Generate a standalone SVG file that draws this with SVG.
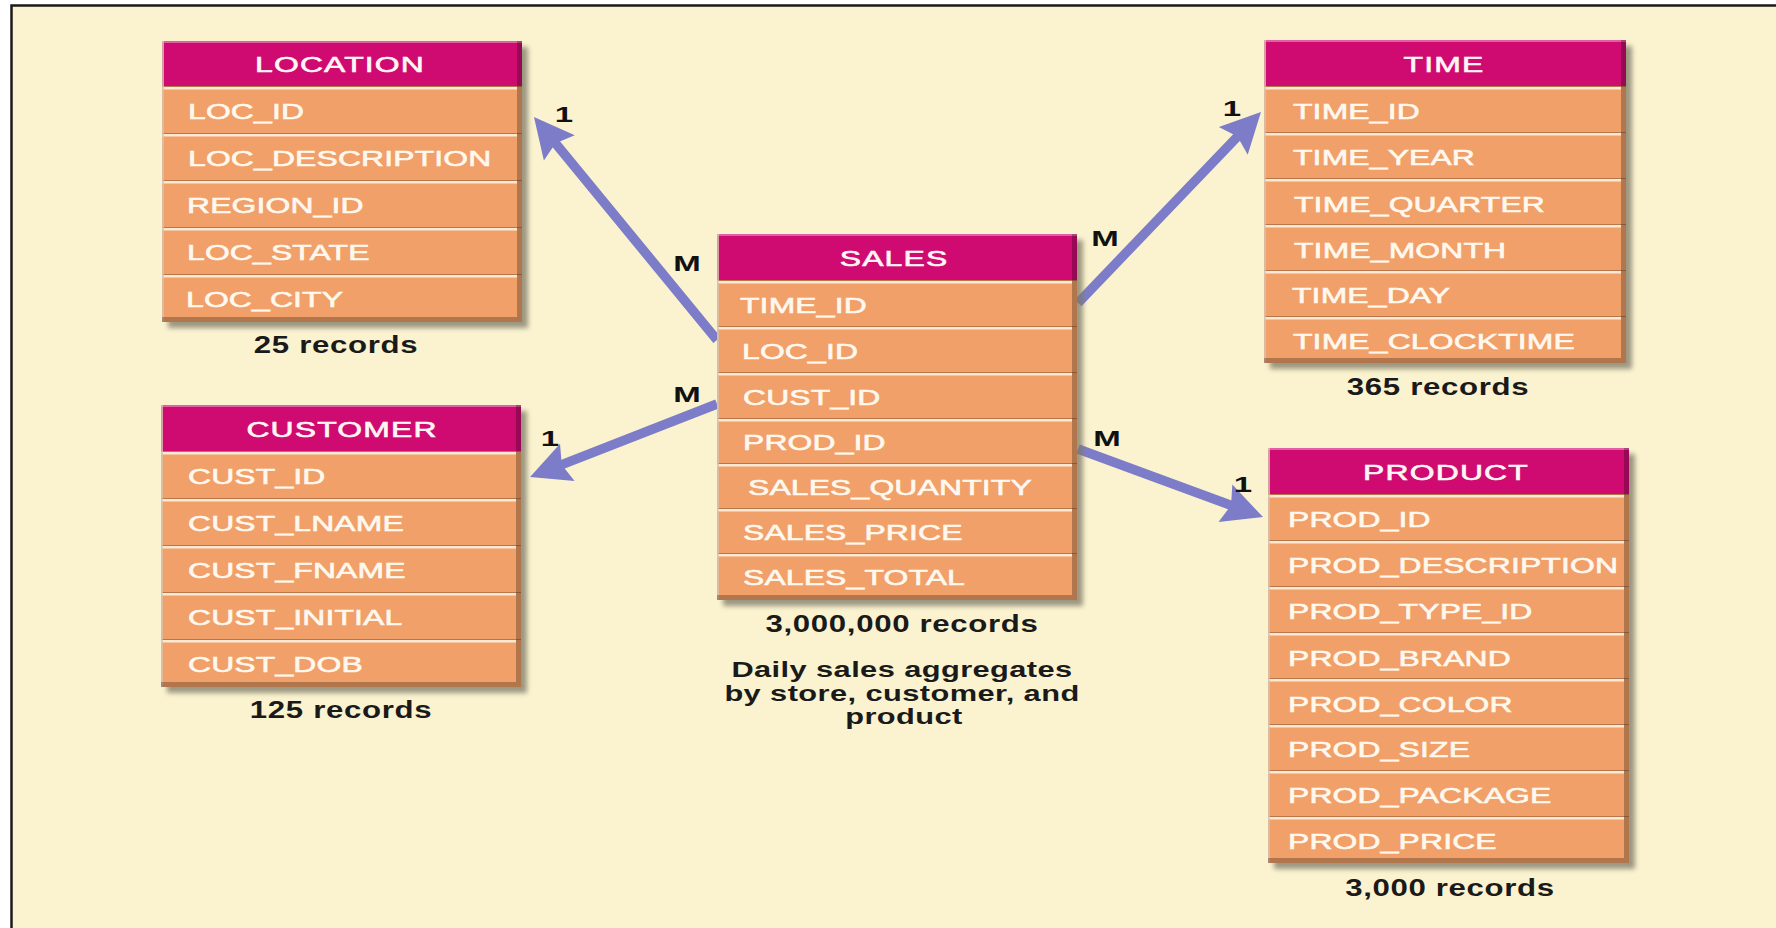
<svg xmlns="http://www.w3.org/2000/svg" width="1776" height="928" viewBox="0 0 1776 928">
  <defs>
    <filter id="soft" x="-10%" y="-10%" width="120%" height="120%">
      <feGaussianBlur stdDeviation="2.5"/>
    </filter>
    <marker id="head" markerUnits="userSpaceOnUse" orient="auto" refX="0" refY="0" markerWidth="90" markerHeight="90" overflow="visible">
      <path d="M30,0 L-10,-20 L-4,0 L-10,20 Z" fill="#7C7CC8"/>
    </marker>
    <style>
      .bg { fill: #FBF3D0; }
      .frame { fill: none; stroke: #1A1A1A; stroke-width: 2.5; }
      .shadow { fill: #7D7867; opacity: 0.75; filter: url(#soft); }
      .body { fill: #F0A068; }
      .head { fill: #CF0B72; }
      .sepd { fill: none; stroke: #B8764D; stroke-width: 1; }
      .sepl { fill: none; stroke: #FCE9D4; stroke-width: 2.5; }
      .bevr { fill: #000; opacity: 0.26; }
      .bevl { fill: #D8C2AE; opacity: 0.8; }
      .bevt { fill: #FFFFFF; opacity: 0.35; }
      .title { font-family: "Liberation Sans", Arial, sans-serif; font-size: 22px; fill: #FFF6F4; stroke: #FFF6F4; stroke-width: 0.6px; text-anchor: middle; letter-spacing: 0.8px; }
      .field { font-family: "Liberation Sans", Arial, sans-serif; font-size: 22px; fill: #FFF8EE; stroke: #FFF8EE; stroke-width: 0.6px; letter-spacing: 0.1px; }
      .count { font-family: "Liberation Sans", Arial, sans-serif; font-size: 24px; font-weight: bold; fill: #1A1A1A; text-anchor: middle; letter-spacing: 0.5px; }
      .note { font-family: "Liberation Sans", Arial, sans-serif; font-size: 22px; font-weight: bold; fill: #1A1A1A; text-anchor: middle; letter-spacing: 0.3px; }
      .card { font-family: "Liberation Sans", Arial, sans-serif; font-size: 22px; font-weight: bold; fill: #111; text-anchor: middle; }
      .link { fill: none; stroke: #7C7CC8; stroke-width: 9.5; marker-end: url(#head); }
    </style>
  </defs>

  <!-- page -->
  <rect x="0" y="0" width="1776" height="928" fill="#FFFFFF"/>
  <rect class="bg" x="12" y="6" width="1764" height="922"/>
  <path class="frame" d="M11.5,928 V5.5 H1776"/>

  <!-- relationship lines (fact table to dimensions) -->
  <g id="connectors">
    <path class="link" d="M717,340 L553,140.2"/>
    <path class="link" d="M1078,303 L1240.2,133.7"/>
    <path class="link" d="M717,404 L558,466.1"/>
    <path class="link" d="M1078,449 L1234.8,506.7"/>
    <text class="card" transform="translate(564 122) scale(1.5 1)">1</text>
    <text class="card" transform="translate(687 271) scale(1.5 1)">M</text>
    <text class="card" transform="translate(1232 116) scale(1.5 1)">1</text>
    <text class="card" transform="translate(1105 246) scale(1.5 1)">M</text>
    <text class="card" transform="translate(550 446) scale(1.5 1)">1</text>
    <text class="card" transform="translate(687 402) scale(1.5 1)">M</text>
    <text class="card" transform="translate(1107 446) scale(1.5 1)">M</text>
    <text class="card" transform="translate(1243 492) scale(1.5 1)">1</text>
  </g>

  <!-- LOCATION dimension -->
  <g id="location">
    <rect class="shadow" x="168" y="47" width="360" height="281"/>
    <rect class="body" x="162" y="41" width="360" height="281"/>
    <rect class="head" x="162" y="41" width="360" height="46"/>
    <path class="sepd" d="M162,86.5 H522 M162,133.5 H522 M162,180.5 H522 M162,227.5 H522 M162,274.5 H522"/>
    <path class="sepl" d="M162,88.25 H517 M162,135.25 H517 M162,182.25 H517 M162,229.25 H517 M162,276.25 H517"/>
    <rect class="bevt" x="162" y="41" width="360" height="2"/>
    <rect class="bevl" x="162" y="41" width="2" height="281"/>
    <rect class="bevr" x="517" y="41" width="5" height="281"/>
    <rect class="bevr" x="162" y="317" width="355" height="5"/>
    <text class="title" transform="translate(340 72) scale(1.45 1)">LOCATION</text>
    <text class="field" transform="translate(188 119) scale(1.45 1)">LOC_ID</text>
    <text class="field" transform="translate(188 166) scale(1.45 1)">LOC_DESCRIPTION</text>
    <text class="field" transform="translate(187 213) scale(1.45 1)">REGION_ID</text>
    <text class="field" transform="translate(187 260) scale(1.45 1)">LOC_STATE</text>
    <text class="field" transform="translate(186 307) scale(1.45 1)">LOC_CITY</text>
    <text class="count" transform="translate(336 353) scale(1.3 1)">25 records</text>
  </g>

  <!-- CUSTOMER dimension -->
  <g id="customer">
    <rect class="shadow" x="167" y="411" width="360" height="282"/>
    <rect class="body" x="161" y="405" width="360" height="282"/>
    <rect class="head" x="161" y="405" width="360" height="47"/>
    <path class="sepd" d="M161,451.5 H521 M161,498.5 H521 M161,545.5 H521 M161,592.5 H521 M161,639.5 H521"/>
    <path class="sepl" d="M161,453.25 H516 M161,500.25 H516 M161,547.25 H516 M161,594.25 H516 M161,641.25 H516"/>
    <rect class="bevt" x="161" y="405" width="360" height="2"/>
    <rect class="bevl" x="161" y="405" width="2" height="282"/>
    <rect class="bevr" x="516" y="405" width="5" height="282"/>
    <rect class="bevr" x="161" y="682" width="355" height="5"/>
    <text class="title" transform="translate(342 437) scale(1.45 1)">CUSTOMER</text>
    <text class="field" transform="translate(188 484) scale(1.45 1)">CUST_ID</text>
    <text class="field" transform="translate(188 531) scale(1.45 1)">CUST_LNAME</text>
    <text class="field" transform="translate(188 578) scale(1.45 1)">CUST_FNAME</text>
    <text class="field" transform="translate(188 625) scale(1.45 1)">CUST_INITIAL</text>
    <text class="field" transform="translate(188 672) scale(1.45 1)">CUST_DOB</text>
    <text class="count" transform="translate(341 718) scale(1.3 1)">125 records</text>
  </g>

  <!-- SALES fact table -->
  <g id="sales">
    <rect class="shadow" x="723" y="240" width="360" height="366"/>
    <rect class="body" x="717" y="234" width="360" height="366"/>
    <rect class="head" x="717" y="234" width="360" height="47"/>
    <path class="sepd" d="M717,280.5 H1077 M717,326.5 H1077 M717,372.5 H1077 M717,418.5 H1077 M717,463.5 H1077 M717,508.5 H1077 M717,553.5 H1077"/>
    <path class="sepl" d="M717,282.25 H1072 M717,328.25 H1072 M717,374.25 H1072 M717,420.25 H1072 M717,465.25 H1072 M717,510.25 H1072 M717,555.25 H1072"/>
    <rect class="bevt" x="717" y="234" width="360" height="2"/>
    <rect class="bevl" x="717" y="234" width="2" height="366"/>
    <rect class="bevr" x="1072" y="234" width="5" height="366"/>
    <rect class="bevr" x="717" y="595" width="355" height="5"/>
    <text class="title" transform="translate(894 266) scale(1.45 1)">SALES</text>
    <text class="field" transform="translate(740 312.5) scale(1.45 1)">TIME_ID</text>
    <text class="field" transform="translate(742 358.5) scale(1.45 1)">LOC_ID</text>
    <text class="field" transform="translate(743 404.5) scale(1.45 1)">CUST_ID</text>
    <text class="field" transform="translate(743 450) scale(1.45 1)">PROD_ID</text>
    <text class="field" transform="translate(748 495) scale(1.45 1)">SALES_QUANTITY</text>
    <text class="field" transform="translate(743 540) scale(1.45 1)">SALES_PRICE</text>
    <text class="field" transform="translate(743 585) scale(1.45 1)">SALES_TOTAL</text>
    <text class="count" transform="translate(902 632) scale(1.3 1)">3,000,000 records</text>
    <text class="note" transform="translate(902 677) scale(1.4 1)">Daily sales aggregates</text>
    <text class="note" transform="translate(902 701) scale(1.4 1)">by store, customer, and</text>
    <text class="note" transform="translate(904 724) scale(1.4 1)">product</text>
  </g>

  <!-- TIME dimension -->
  <g id="time">
    <rect class="shadow" x="1270" y="46" width="362" height="323"/>
    <rect class="body" x="1264" y="40" width="362" height="323"/>
    <rect class="head" x="1264" y="40" width="362" height="47"/>
    <path class="sepd" d="M1264,86.5 H1626 M1264,132.5 H1626 M1264,178.5 H1626 M1264,224.5 H1626 M1264,270.5 H1626 M1264,316.5 H1626"/>
    <path class="sepl" d="M1264,88.25 H1621 M1264,134.25 H1621 M1264,180.25 H1621 M1264,226.25 H1621 M1264,272.25 H1621 M1264,318.25 H1621"/>
    <rect class="bevt" x="1264" y="40" width="362" height="2"/>
    <rect class="bevl" x="1264" y="40" width="2" height="323"/>
    <rect class="bevr" x="1621" y="40" width="5" height="323"/>
    <rect class="bevr" x="1264" y="358" width="357" height="5"/>
    <text class="title" transform="translate(1444 72) scale(1.45 1)">TIME</text>
    <text class="field" transform="translate(1293 119) scale(1.45 1)">TIME_ID</text>
    <text class="field" transform="translate(1293 165) scale(1.45 1)">TIME_YEAR</text>
    <text class="field" transform="translate(1294 212) scale(1.45 1)">TIME_QUARTER</text>
    <text class="field" transform="translate(1294 258) scale(1.45 1)">TIME_MONTH</text>
    <text class="field" transform="translate(1292 303) scale(1.45 1)">TIME_DAY</text>
    <text class="field" transform="translate(1293 349) scale(1.45 1)">TIME_CLOCKTIME</text>
    <text class="count" transform="translate(1438 395) scale(1.3 1)">365 records</text>
  </g>

  <!-- PRODUCT dimension -->
  <g id="product">
    <rect class="shadow" x="1274" y="454" width="361" height="415"/>
    <rect class="body" x="1268" y="448" width="361" height="415"/>
    <rect class="head" x="1268" y="448" width="361" height="47"/>
    <path class="sepd" d="M1268,494.5 H1629 M1268,540.5 H1629 M1268,586.5 H1629 M1268,632.5 H1629 M1268,678.5 H1629 M1268,724.5 H1629 M1268,770.5 H1629 M1268,816.5 H1629"/>
    <path class="sepl" d="M1268,496.25 H1624 M1268,542.25 H1624 M1268,588.25 H1624 M1268,634.25 H1624 M1268,680.25 H1624 M1268,726.25 H1624 M1268,772.25 H1624 M1268,818.25 H1624"/>
    <rect class="bevt" x="1268" y="448" width="361" height="2"/>
    <rect class="bevl" x="1268" y="448" width="2" height="415"/>
    <rect class="bevr" x="1624" y="448" width="5" height="415"/>
    <rect class="bevr" x="1268" y="858" width="356" height="5"/>
    <text class="title" transform="translate(1446 480) scale(1.45 1)">PRODUCT</text>
    <text class="field" transform="translate(1288 527) scale(1.45 1)">PROD_ID</text>
    <text class="field" transform="translate(1288 573) scale(1.45 1)">PROD_DESCRIPTION</text>
    <text class="field" transform="translate(1288 619) scale(1.45 1)">PROD_TYPE_ID</text>
    <text class="field" transform="translate(1288 666) scale(1.45 1)">PROD_BRAND</text>
    <text class="field" transform="translate(1288 712) scale(1.45 1)">PROD_COLOR</text>
    <text class="field" transform="translate(1288 757) scale(1.45 1)">PROD_SIZE</text>
    <text class="field" transform="translate(1288 803) scale(1.45 1)">PROD_PACKAGE</text>
    <text class="field" transform="translate(1288 849) scale(1.45 1)">PROD_PRICE</text>
    <text class="count" transform="translate(1450 896) scale(1.3 1)">3,000 records</text>
  </g>
</svg>
